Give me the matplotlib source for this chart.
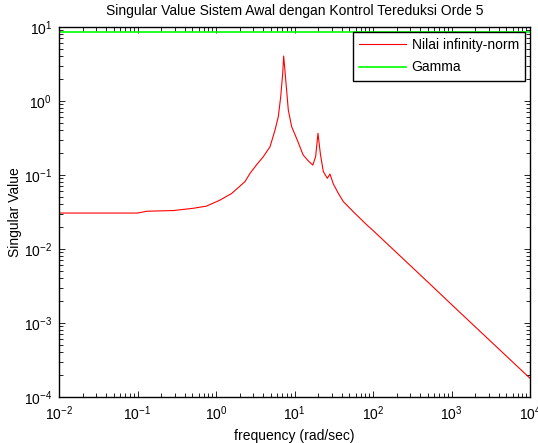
import matplotlib
matplotlib.use("Agg")
import matplotlib.pyplot as plt
from matplotlib.ticker import FixedLocator, LogLocator, NullFormatter

plt.rcParams['font.family'] = ['Liberation Sans', 'DejaVu Sans']
plt.rcParams['mathtext.fontset'] = 'custom'
plt.rcParams['mathtext.rm'] = 'Liberation Sans'
plt.rcParams['mathtext.it'] = 'Liberation Sans'
plt.rcParams['mathtext.bf'] = 'Liberation Sans'

# Data
freq = [0.01, 0.0316, 0.1, 0.132, 0.288, 0.513, 0.759, 1.12, 1.58, 2.34,
        2.71, 3.3, 4.01, 4.88, 5.65, 6.22, 6.67, 7.08, 7.28, 7.80, 8.34,
        9.20, 10.8, 12.9, 15.0, 17.1, 18.6, 19.9, 21.4, 23.3, 26.2, 28.3, 31.2,
        36.0, 41.9, 56.1, 83.2, 100, 165, 316, 532, 1000, 3162, 10000]
sv = [0.0306, 0.0306, 0.0306, 0.0324, 0.0331, 0.0355, 0.038, 0.0457, 0.0562, 0.0813,
      0.105, 0.138, 0.177, 0.241, 0.406, 0.614, 1.14, 2.37, 4.05, 1.73, 0.755,
      0.450, 0.30, 0.186, 0.155, 0.136, 0.178, 0.366, 0.19, 0.111, 0.0902, 0.103, 0.0759,
      0.057, 0.0437, 0.0319, 0.0212, 0.0178, 0.0108, 0.00565, 0.00336, 0.00178, 0.000564, 0.000179]
gamma_freq = [0.01, 10000]
gamma = [8.6, 8.6]

title = "Singular Value Sistem Awal dengan Kontrol Tereduksi Orde 5"
xlabel = "frequency (rad/sec)"
ylabel = "Singular Value"
legend_labels = ["Nilai infinity-norm", "Gamma"]
xticks = [1e-2, 1e-1, 1e0, 1e1, 1e2, 1e3, 1e4]
yticks = [1e-4, 1e-3, 1e-2, 1e-1, 1e0, 1e1]

fig = plt.figure(figsize=(5.38, 4.43), dpi=100)
ax = fig.add_axes([59/538, 46/443, 471/538, 370/443])
ax.plot(freq, sv, color=(1, 0, 0), lw=0.8, label=legend_labels[0])
ax.plot(gamma_freq, gamma, color=(0, 1, 0), lw=1.2, label=legend_labels[1])
ax.set_xscale('log')
ax.set_yscale('log')
ax.set_xlim(1e-2, 1e4)
ax.set_ylim(1e-4, 1e1)

ax.xaxis.set_major_locator(FixedLocator(xticks))
ax.yaxis.set_major_locator(FixedLocator(yticks))
for a in (ax.xaxis, ax.yaxis):
    a.set_minor_locator(LogLocator(base=10, subs=range(2, 10), numticks=20))
    a.set_minor_formatter(NullFormatter())
ax.tick_params(which='both', direction='in', top=True, right=True, width=0.6)
ax.tick_params(which='major', length=4, labelsize=10, pad=5)
ax.tick_params(which='minor', length=3)
for s in ax.spines.values():
    s.set_linewidth(1.0)

ax.set_title(title, fontsize=10, pad=9)
ax.set_xlabel(xlabel, fontsize=10, labelpad=5)
ax.set_ylabel(ylabel, fontsize=10, labelpad=1)

leg = ax.legend(loc='upper right', fontsize=10, fancybox=False, framealpha=1,
                edgecolor='black', borderaxespad=0.35, handlelength=3.4,
                handletextpad=0.4, labelspacing=0.6, borderpad=0.45)
leg.get_frame().set_linewidth(1.0)

fig.savefig("out.png", dpi=100)
